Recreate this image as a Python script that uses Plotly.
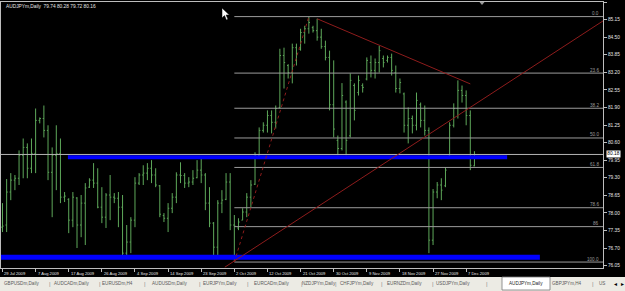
import plotly.graph_objects as go

# ---------------- data (AUDJPYm, Daily) ----------------
opens = [77.47, 77.55, 78.77, 79.21, 79.28, 80.13, 80.42, 79.65, 80.20, 81.42,
         81.49, 81.05, 79.50, 80.13, 80.20, 78.58, 78.50, 77.73, 78.55, 77.55,
         78.36, 78.95, 79.21, 79.10, 78.21, 77.84, 78.66, 78.58, 78.54, 78.21,
         76.51, 76.92, 77.73, 79.10, 79.40, 79.47, 79.65, 79.40, 79.00, 77.90,
         77.80, 78.17, 78.58, 79.40, 79.38, 79.10, 79.14, 79.30, 79.58, 79.40,
         78.36, 77.62, 76.73, 78.36, 78.50, 79.14, 77.55, 77.44, 77.73, 78.03,
         78.58, 79.06, 80.13, 81.05, 81.24, 81.60, 81.35, 81.90, 83.82, 83.45,
         83.19, 84.11, 84.05, 84.67, 84.81, 84.85, 84.74, 84.50, 84.15, 83.75,
         82.00, 80.68, 80.38, 82.10, 80.85, 82.71, 82.45, 82.71, 82.95, 83.56,
         83.27, 83.56, 83.71, 83.64, 83.75, 83.19, 82.60, 82.40, 81.24, 81.49,
         81.24, 82.00, 81.42, 81.05, 76.99, 78.77, 79.03, 79.00, 80.10, 81.24,
         81.86, 82.53, 82.34, 81.60, 79.74]
highs = [78.36, 79.25, 79.47, 79.40, 80.31, 80.75, 80.57, 80.75, 81.86, 81.53,
         81.97, 81.24, 80.42, 81.24, 80.75, 78.77, 78.54, 78.77, 78.58, 78.66,
         79.10, 79.28, 79.84, 79.65, 78.95, 78.73, 79.40, 78.73, 78.77, 78.66,
         77.55, 77.84, 79.32, 79.47, 79.76, 79.84, 79.95, 79.65, 79.03, 77.99,
         78.36, 78.73, 79.50, 79.87, 79.47, 79.32, 79.58, 79.95, 80.02, 79.47,
         78.95, 77.66, 78.47, 78.84, 79.47, 79.47, 77.92, 77.80, 78.17, 78.73,
         79.21, 80.24, 81.16, 81.35, 81.79, 81.79, 81.97, 84.07, 84.11, 83.50,
         84.26, 84.26, 84.81, 84.92, 85.26, 84.92, 85.18, 84.81, 84.37, 84.00,
         83.64, 80.86, 82.80, 82.16, 83.16, 82.79, 83.08, 82.79, 83.75, 83.82,
         83.71, 84.18, 83.82, 83.82, 83.89, 83.45, 82.97, 82.45, 81.90, 81.60,
         82.45, 82.08, 81.97, 81.16, 78.88, 79.14, 79.28, 79.69, 81.35, 82.05,
         82.90, 82.71, 82.53, 81.79, 80.28]
lows = [77.29, 77.29, 78.47, 78.84, 79.03, 79.28, 79.28, 79.47, 79.47, 81.31,
        80.79, 79.21, 77.84, 78.84, 78.36, 78.40, 77.25, 77.47, 76.70, 77.10,
        76.81, 78.92, 78.92, 78.17, 77.62, 77.44, 77.73, 78.36, 77.47, 76.37,
        76.44, 76.51, 77.47, 79.03, 79.03, 79.21, 79.10, 78.95, 77.84, 77.66,
        77.29, 77.99, 78.36, 79.10, 78.92, 78.95, 79.03, 79.28, 79.10, 78.10,
        77.47, 76.44, 76.44, 77.99, 78.47, 77.36, 76.18, 77.36, 77.73, 77.84,
        78.21, 79.03, 80.05, 80.97, 80.97, 80.94, 81.12, 81.86, 82.60, 82.97,
        82.79, 83.45, 84.00, 84.26, 84.63, 84.67, 84.37, 84.07, 83.64, 81.79,
        80.79, 80.13, 80.31, 80.13, 80.79, 81.42, 82.34, 82.45, 82.90, 83.01,
        82.97, 83.19, 83.38, 83.56, 83.08, 82.45, 82.42, 80.97, 80.57, 80.94,
        81.05, 81.16, 80.86, 76.51, 76.81, 78.54, 78.47, 78.95, 80.05, 81.16,
        81.49, 82.08, 81.24, 79.58, 79.72]
closes = [77.51, 78.77, 79.21, 79.28, 80.13, 80.42, 79.65, 80.20, 81.42, 81.49,
          81.05, 79.50, 80.13, 80.20, 78.58, 78.62, 77.73, 78.58, 77.55, 78.36,
          78.92, 79.21, 79.10, 78.21, 77.84, 78.66, 78.58, 78.54, 78.21, 76.51,
          76.92, 77.73, 79.10, 79.40, 79.47, 79.65, 79.40, 79.03, 77.95, 77.80,
          78.17, 78.58, 79.40, 79.38, 79.10, 79.14, 79.28, 79.58, 79.40, 78.36,
          77.62, 76.73, 78.36, 78.47, 79.14, 77.55, 77.51, 77.66, 78.03, 78.58,
          79.03, 80.13, 81.05, 81.24, 81.60, 81.35, 81.86, 83.82, 83.56, 83.19,
          84.11, 83.89, 84.67, 84.81, 85.04, 84.74, 84.50, 84.15, 83.75, 82.00,
          81.10, 80.38, 82.34, 80.68, 82.90, 81.79, 82.90, 82.64, 83.64, 83.27,
          83.56, 84.00, 83.56, 83.75, 83.27, 82.60, 82.82, 81.24, 81.49, 81.24,
          82.16, 81.42, 81.05, 76.99, 78.77, 79.03, 78.84, 79.58, 81.24, 81.86,
          82.53, 82.34, 81.60, 79.76, 80.16]
bar_index = list(range(len(closes)))

x_tick_bars = [0, 8, 16, 24, 32, 40, 48, 56, 64, 72, 80, 88, 96, 104, 112]
x_tick_labels = ["29 Jul 2009", "7 Aug 2009", "17 Aug 2009", "26 Aug 2009", "4 Sep 2009",
                 "14 Sep 2009", "23 Sep 2009", "2 Oct 2009", "12 Oct 2009", "21 Oct 2009",
                 "30 Oct 2009", "9 Nov 2009", "18 Nov 2009", "27 Nov 2009", "7 Dec 2009"]
y_tick_values = [76.05, 76.70, 77.35, 78.00, 78.65, 79.30, 79.95, 80.60, 81.25,
                 81.90, 82.55, 83.20, 83.85, 84.50, 85.15, 85.80]

fib_labels = ["0.0", "23.6", "38.2", "50.0", "61.8", "78.6", "86", "100.0"]
fib_prices = [85.26, 83.17, 81.87, 80.77, 79.68, 78.19, 77.49, 76.18]
fib_start_bar = 56

support_upper = dict(price=80.06, start=15.8, end=121.9)
support_lower = dict(price=76.36, start=-1.0, end=129.8)

downtrend_bars = [76, 113]
downtrend_prices = [85.18, 82.77]
uptrend_bars = [53.7, 145.05]
uptrend_prices = [75.99, 85.10]
fib_swing_bars = [56, 74]
fib_swing_prices = [76.18, 85.26]

bid_price = 80.16
bid_box_text = "80.18"
header_text = "AUDJPYm,Daily  79.74 80.28 79.72 80.16"

tab_names = ["GBPUSDm,Daily", "AUDCADm,Daily", "EURUSDm,H4", "AUDUSDm,Daily",
             "EURJPYm,Daily", "EURCADm,Daily", "NZDJPYm,Daily", "CHFJPYm,Daily",
             "EURNZDm,Daily", "USDJPYm,Daily", "AUDJPYm,Daily", "GBPJPYm,H4", "US"]
active_tab = "AUDJPYm,Daily"

# ---------------- layout geometry (pixels) ----------------
W, H = 625, 291
PL, PR, PT, PB = 1, 603, 2, 268
X_RANGE = [-0.36, 145.05]
Y_RANGE = [75.96, 85.80]


def px(X):
    return (X - PL) / (PR - PL)


def py(Y):
    return (PB - Y) / (PB - PT)


GREEN = "#5ea85a"
RED = "#8e1c1c"
FIB = "#9c9c9c"
TXT = "#e6e6e6"

fig = go.Figure()
fig.add_trace(go.Ohlc(
    x=bar_index, open=opens, high=highs, low=lows, close=closes,
    increasing=dict(line=dict(color=GREEN, width=1)),
    decreasing=dict(line=dict(color=GREEN, width=1)),
    tickwidth=0.28, hoverinfo="skip", showlegend=False))

shapes = []
# bid line
shapes.append(dict(type="line", xref="x", yref="y", x0=X_RANGE[0], x1=X_RANGE[1],
                   y0=bid_price, y1=bid_price, line=dict(color="#b4b4b4", width=1), layer="above"))
# fibonacci levels
for p in fib_prices:
    shapes.append(dict(type="line", xref="x", yref="y", x0=fib_start_bar, x1=X_RANGE[1],
                       y0=p, y1=p, line=dict(color=FIB, width=1), layer="above"))
# support zones (thick blue)
for s, w in ((support_upper, 4), (support_lower, 5)):
    shapes.append(dict(type="line", xref="x", yref="y", x0=s["start"], x1=s["end"],
                       y0=s["price"], y1=s["price"], line=dict(color="#0000ff", width=w), layer="above"))
# trend lines
shapes.append(dict(type="line", xref="x", yref="y", x0=downtrend_bars[0], x1=downtrend_bars[1],
                   y0=downtrend_prices[0], y1=downtrend_prices[1], line=dict(color=RED, width=1), layer="above"))
shapes.append(dict(type="line", xref="x", yref="y", x0=uptrend_bars[0], x1=uptrend_bars[1],
                   y0=uptrend_prices[0], y1=uptrend_prices[1], line=dict(color=RED, width=1), layer="above"))
shapes.append(dict(type="line", xref="x", yref="y", x0=fib_swing_bars[0], x1=fib_swing_bars[1],
                   y0=fib_swing_prices[0], y1=fib_swing_prices[1],
                   line=dict(color=RED, width=1, dash="dot"), layer="above"))

# tab bar
shapes.append(dict(type="rect", xref="paper", yref="paper", x0=px(-2), x1=px(W + 2),
                   y0=py(277), y1=py(H + 2), fillcolor="#ecebe4", line=dict(width=0), layer="above"))
shapes.append(dict(type="rect", xref="paper", yref="paper", x0=px(502), x1=px(550),
                   y0=py(277), y1=py(290), fillcolor="#ffffff",
                   line=dict(color="#7a7a7a", width=0.8), layer="above"))


def path(points):
    s = "M " + " L ".join(f"{px(a):.5f},{py(b):.5f}" for a, b in points) + " Z"
    return s


# mouse cursor
shapes.append(dict(type="path", xref="paper", yref="paper",
                   path=path([(222, 8), (222, 18), (224.5, 15.6), (226.4, 20), (228, 19.3),
                              (226.1, 15), (229.4, 15)]),
                   fillcolor="#ffffff", line=dict(color="#000000", width=0.5), layer="above"))
# chart shift marker
shapes.append(dict(type="path", xref="paper", yref="paper",
                   path=path([(479.5, 2), (484.5, 2), (482, 5)]),
                   fillcolor="#9a9a9a", line=dict(width=0), layer="above"))

annotations = []
# header
annotations.append(dict(xref="paper", yref="paper", x=px(4), y=py(6), text=header_text,
                        showarrow=False, xanchor="left", yanchor="middle",
                        font=dict(family="Liberation Sans", size=4.8, color=TXT)))
# fib labels
for lab, p in zip(fib_labels, fib_prices):
    annotations.append(dict(xref="paper", yref="y", x=1, y=p, text=lab, showarrow=False,
                            xanchor="right", yanchor="bottom", xshift=-2, yshift=-1.5,
                            font=dict(family="Liberation Sans", size=4.6, color=FIB)))
# x tick labels (left aligned like MT4)
for b, lab in zip(x_tick_bars, x_tick_labels):
    annotations.append(dict(xref="x", yref="paper", x=b, y=py(273), text=lab, showarrow=False,
                            xanchor="left", yanchor="middle", xshift=0,
                            font=dict(family="Liberation Sans", size=4.1, color=TXT)))
# bid box
annotations.append(dict(xref="paper", yref="y", x=1, y=bid_price, text=bid_box_text, showarrow=False,
                        xanchor="left", yanchor="middle", xshift=3, bgcolor="#ffffff",
                        borderpad=0.3, font=dict(family="Liberation Sans", size=4.8, color="#000000")))
# tabs
tab_centers = [21, 71, 117, 169, 220, 271, 319, 357, 404, 453, 526, 567, 602]
sep_positions = [50, 100, 145, 200, 248, 302, 336, 382, 433, 487, 593]
for name, cx in zip(tab_names, tab_centers):
    annotations.append(dict(xref="paper", yref="paper", x=px(cx), y=py(283.5), text=name,
                            showarrow=False, xanchor="center", yanchor="middle",
                            font=dict(family="Liberation Sans Narrow, Liberation Sans", size=4.6,
                                      color="#222222" if name == active_tab else "#5a5a5a")))
for sx in sep_positions:
    annotations.append(dict(xref="paper", yref="paper", x=px(sx), y=py(283.5), text="|",
                            showarrow=False, xanchor="center", yanchor="middle",
                            font=dict(family="Liberation Sans", size=6, color="#8a8a8a")))
for ax_, sym in ((615, "\u25c2"), (622, "\u25b8")):
    annotations.append(dict(xref="paper", yref="paper", x=px(ax_), y=py(283.5), text=sym,
                            showarrow=False, xanchor="center", yanchor="middle",
                            font=dict(family="DejaVu Sans", size=6, color="#000000")))

fig.update_layout(
    width=W, height=H,
    margin=dict(l=PL, r=W - PR, t=PT, b=H - PB, pad=0, autoexpand=False),
    paper_bgcolor="#000000", plot_bgcolor="#000000",
    showlegend=False,
    shapes=shapes, annotations=annotations,
    xaxis=dict(range=X_RANGE, rangeslider=dict(visible=False), showgrid=False, zeroline=False,
               showline=True, linecolor="#bdbdbd", linewidth=1, mirror=True,
               tickmode="array", tickvals=x_tick_bars, ticktext=[""] * len(x_tick_bars),
               ticks="outside", ticklen=3, tickcolor="#bdbdbd", showticklabels=False,
               fixedrange=True),
    yaxis=dict(range=Y_RANGE, side="right", showgrid=False, zeroline=False,
               showline=True, linecolor="#bdbdbd", linewidth=1, mirror=True,
               tickmode="array", tickvals=y_tick_values,
               ticktext=[f"{v:.2f}" for v in y_tick_values],
               ticks="outside", ticklen=3, tickcolor="#bdbdbd",
               tickfont=dict(family="Liberation Sans", size=4.8, color=TXT),
               fixedrange=True),
)

fig.write_html("out.html")
